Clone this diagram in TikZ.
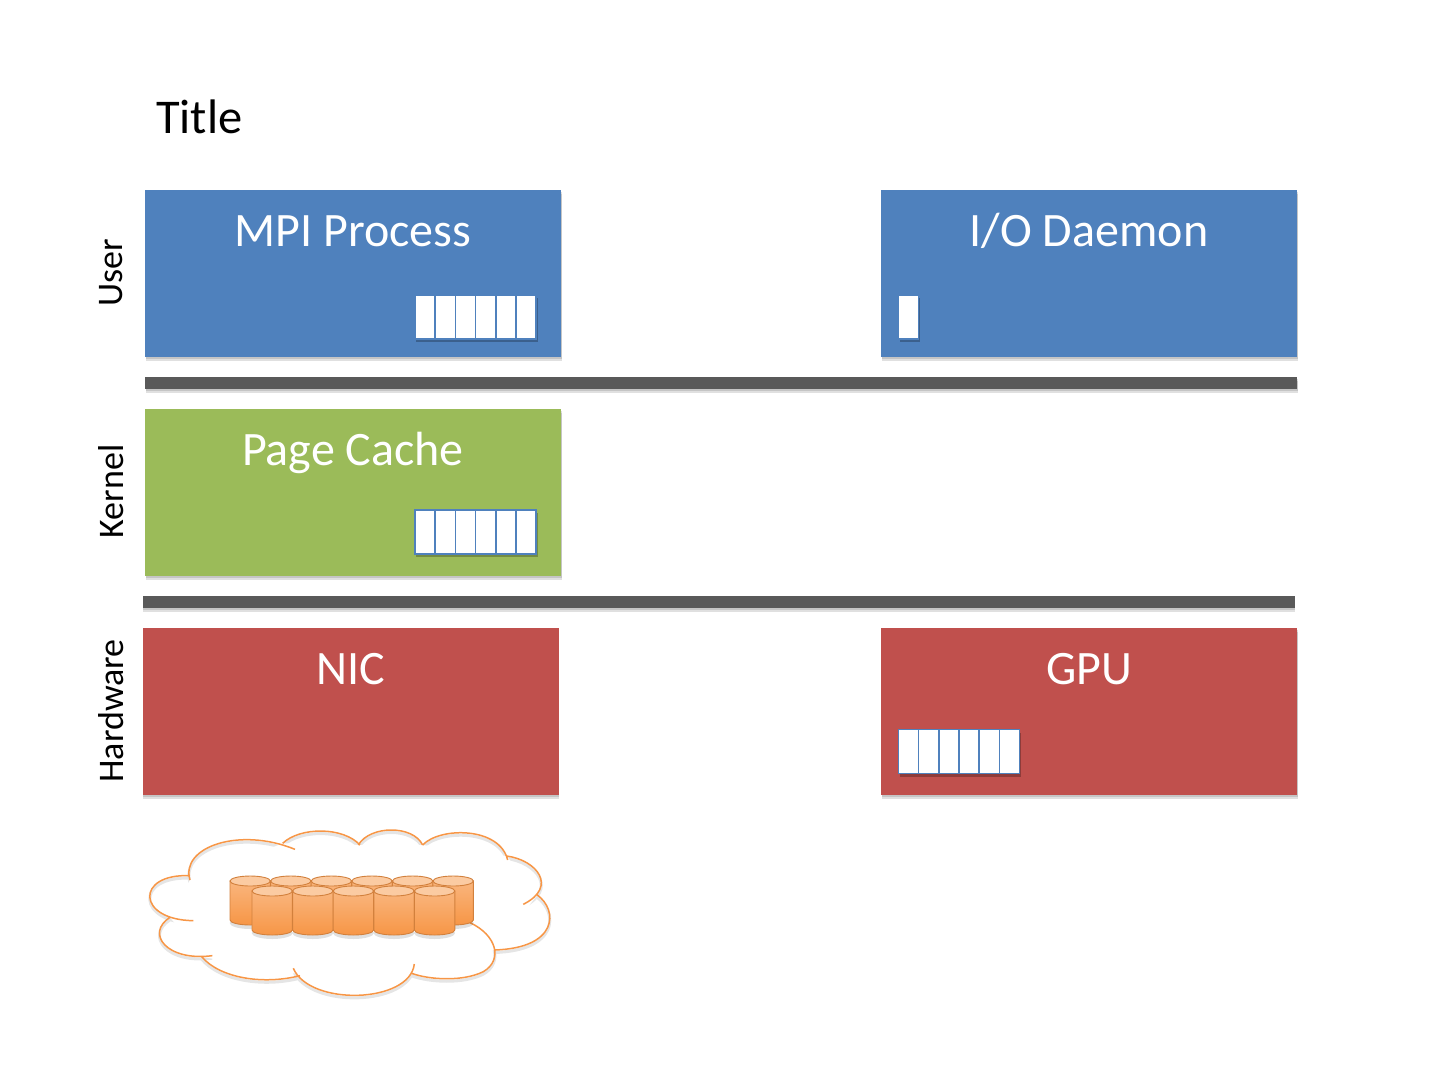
\documentclass[tikz,border=0pt]{standalone}
\usepackage{fontspec}
\setmainfont{Carlito}
\usetikzlibrary{positioning, shadows}
\definecolor{boxblue}{HTML}{4F81BD}
\definecolor{boxgreen}{HTML}{9BBB59}
\definecolor{boxred}{HTML}{C0504D}
\definecolor{bargray}{HTML}{595959}
\definecolor{drumorange}{HTML}{F79646}
\tikzset{
    softshadow/.style={general shadow={shadow yshift=-1.5pt, shadow xshift=0.5pt, fill=black, opacity=0.12}, general shadow={shadow yshift=-3.5pt, shadow xshift=0.5pt, fill=black, opacity=0.12}},
    layerbox/.style={rectangle, minimum width=416pt, minimum height=167pt, inner sep=0pt, outer sep=0pt, softshadow},
    layerbar/.style={rectangle, fill=bargray, minimum width=1152pt, minimum height=12pt, inner sep=0pt, outer sep=0pt, softshadow},
    boxtitle/.style={text=white, font=\fontsize{48}{48}\selectfont, inner sep=0pt, anchor=base},
    sidelabel/.style={text=black, font=\fontsize{36}{36}\selectfont, rotate=90, inner sep=0pt, anchor=center},
    cellbox/.style={rectangle, draw=boxblue, line width=1.6pt, fill=white, minimum width=20.2pt, minimum height=44pt, inner sep=0pt, outer sep=0pt, general shadow={shadow yshift=-3pt, shadow xshift=1.5pt, fill=black, opacity=0.25}},
    drumside/.style={draw=drumorange!85!black, line width=0.9pt, top color=drumorange!70!white, bottom color=drumorange},
    drumtop/.style={draw=drumorange!85!black, line width=0.9pt, fill=drumorange!50!white},
    cloudline/.style={draw=drumorange, line width=1.5pt}
}
\newcommand{\cloudarcs}{
    (180,210) .. controls (150,110) and (330,50) .. (495,118)
    (458,100) .. controls (510,50) and (640,50) .. (690,105)
    (685,105) .. controls (720,45) and (850,45) .. (878,105)
    (878,105) .. controls (930,50) and (1110,50) .. (1133,150)
    (1130,138) .. controls (1220,150) and (1285,230) .. (1180,283)
    (1222,255) .. controls (1285,300) and (1285,415) .. (1092,420)
    (1020,338) .. controls (1100,375) and (1120,450) .. (1060,485) .. controls (1000,515) and (900,510) .. (845,490)
    (853,462) .. controls (840,580) and (540,590) .. (490,475)
    (510,497) .. controls (400,525) and (270,505) .. (215,440)
    (247,437) .. controls (110,455) and (45,370) .. (120,322)
    (190,332) .. controls (20,330) and (15,190) .. (180,197)
}
\newcommand{\drum}[2]{
    \fill[black, opacity=0.12] (#1+20.2,#2+42) ellipse[x radius=20.5, y radius=6];
    \draw[drumside] (#1,#2) -- (#1,#2+39) arc[start angle=180, end angle=0, x radius=20.2, y radius=5] -- (#1+40.4,#2) -- cycle;
    \draw[drumtop] (#1+20.2,#2) ellipse[x radius=20.2, y radius=5];
}
\begin{document}
\begin{tikzpicture}[x=1pt, y=-1pt]
    \useasboundingbox (0,0) rectangle (1440,1080);

    \node[anchor=base west, inner sep=0pt, font=\fontsize{48.5}{48.5}\selectfont] (title) at (156,133) {Title};

    \node[layerbox, fill=boxblue] (mpi) at (353,273.5) {};
    \node[layerbox, fill=boxblue] (daemon) at (1089,273.5) {};
    \node[layerbar] (userbar) at (721,383) {};
    \node[layerbox, fill=boxgreen] (cache) at (353,492.5) {};
    \node[layerbar] (kernelbar) at (718.5,602) {};
    \node[layerbox, fill=boxred] (nic) at (350.5,711.5) {};
    \node[layerbox, fill=boxred] (gpu) at (1089,711.5) {};

    \node[boxtitle] (mpititle) at (353,246.5) {MPI Process};
    \node[boxtitle] (daemontitle) at (1089,246.5) {I/O Daemon};
    \node[boxtitle] (cachetitle) at (353,465.5) {Page Cache};
    \node[boxtitle] (nictitle) at (351,684.5) {NIC};
    \node[boxtitle] (gputitle) at (1089,684.5) {GPU};

    \node[sidelabel] (user) at (111,272.5) {User};
    \node[sidelabel] (kernel) at (111,491.5) {Kernel};
    \node[sidelabel] (hardware) at (111,711) {Hardware};

    % page slots
    \foreach \i in {0,...,5} {
        \node[cellbox] (mpicell\i) at (425+20.2*\i,317) {};
        \node[cellbox] (cachecell\i) at (425+20.2*\i,532) {};
        \node[cellbox] (gpucell\i) at (908.5+20.2*\i,751.5) {};
    }
    \node[cellbox] (daemoncell) at (908.5,317) {};

    % cloud
    \begin{scope}[shift={(130,810)}, x=0.3333pt, y=-0.3333pt]
        \draw[black, opacity=0.1, line width=3pt, yshift=-2.5pt] \cloudarcs;
        \fill[white] (180,210) -- (458,100) -- (690,105) -- (878,105) -- (1130,138) -- (1222,255) -- (1092,420) -- (853,490) -- (490,490) -- (215,440) -- (120,322) -- cycle;
        \draw[cloudline] \cloudarcs;
    \end{scope}

    % disks
    \foreach \i in {0,...,5} {
        \drum{230+40.6*\i}{881}
    }
    \foreach \i in {0,...,4} {
        \drum{252+40.6*\i}{891}
    }
\end{tikzpicture}
\end{document}
